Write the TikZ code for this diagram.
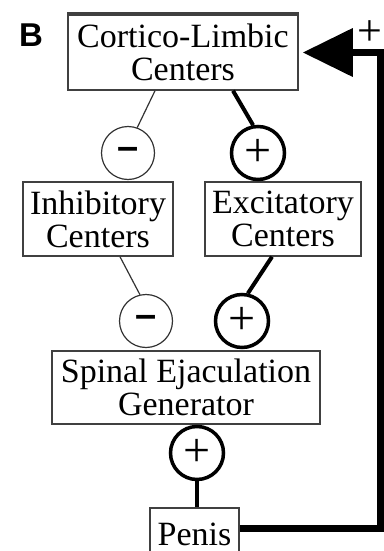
\documentclass[tikz,border=0pt]{standalone}
\usepackage{fontspec}
\setmainfont{Liberation Serif}
\newfontfamily\labelsans{Liberation Sans}
\usetikzlibrary{arrows.meta}
\begin{document}
\begin{tikzpicture}[x=1pt,y=-1pt,
  box/.style={draw=black!75, line width=1.5pt, inner sep=0pt, align=center,
    font=\fontsize{34}{33}\selectfont},
  posring/.style={circle, draw, line width=3.5pt, inner sep=0pt, minimum size=53pt,
    font=\fontsize{48}{48}\selectfont},
  negring/.style={circle, draw=black!80, line width=1.2pt, inner sep=0pt, minimum size=53pt,
    font=\labelsans\bfseries\fontsize{38}{38}\selectfont},
  weak/.style={draw=black!80, line width=1.2pt},
  strong/.style={draw, line width=4pt},
  feedback/.style={draw, line width=7pt, line join=miter, -{Triangle[length=50pt,width=47pt]}},
]
\useasboundingbox (0,0) rectangle (383,551);

% panel letter
\node[font=\labelsans\bfseries\fontsize{33}{33}\selectfont] (panel) at (31,35) {B};

% centres
\node[box, minimum width=230pt, minimum height=75pt] (cort) at (183,52.5) {Cortico-Limbic\\Centers};
\draw[black!75, line width=4pt] (cort.north west) -- (cort.north east);
\node[box, minimum width=150pt, minimum height=74pt] (inh) at (98,219) {Inhibitory\\Centers};
\node[box, minimum width=156pt, minimum height=74pt] (exc) at (283,219) {Excitatory\\Centers};
\node[box, minimum width=268pt, minimum height=73pt] (sejg) at (186,387.5) {Spinal Ejaculation\\Generator};
\node[box, minimum width=89pt, minimum height=52pt] (penis) at (194.5,534) {Penis};

% signed links
\node[negring] (m1) at (128,153) {–};
\node[posring] (p1) at (258,153) {+};
\node[negring] (m2) at (146,321) {–};
\node[posring] (p2) at (242,321) {+};
\node[posring] (p3) at (197,453) {+};

\draw[weak] ([xshift=-28pt]cort.south) -- (m1.70);
\draw[strong] ([xshift=50pt]cort.south) -- (p1.100);
\draw[weak] ([xshift=22pt]inh.south) -- (m2.103);
\draw[strong] ([xshift=-11pt]exc.south) -- (p2.78);
\draw[strong] (p3.south) -- (p3.south |- penis.north);

% feedback from the periphery
\coordinate (fbcorner) at (380,52.5);
\draw[feedback] ([yshift=6pt]penis.east) -| (fbcorner) -- ([xshift=4pt]cort.east);
\node[font=\fontsize{44}{44}\selectfont] (fbsign) at (370,33) {+};
\end{tikzpicture}
\end{document}
